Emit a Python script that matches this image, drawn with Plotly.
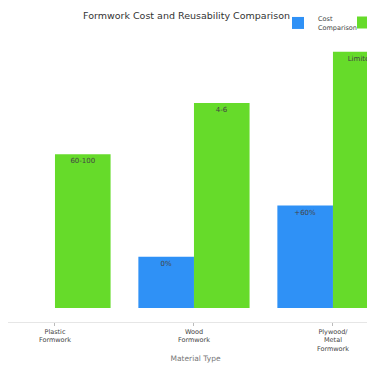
import plotly.graph_objects as go

categories = ["Plastic<br>Formwork", "Wood<br>Formwork", "Plywood/<br>Metal<br>Formwork"]
cost_values = [0, 1, 2]
cost_labels = ["", "0%", "+60%"]
reuse_values = [3, 4, 5]
reuse_labels = ["60-100", "4-6", "Limited"]

fig = go.Figure()
fig.add_trace(go.Bar(
    x=categories, y=cost_values, name="Cost<br>Comparison",
    text=cost_labels, textposition="inside", insidetextanchor="end",
    textfont=dict(size=7, color="#444444"),
    marker=dict(color="#2F91F6", line=dict(width=0)),
))
fig.add_trace(go.Bar(
    x=categories, y=reuse_values, name="Reusability",
    text=reuse_labels, textposition="inside", insidetextanchor="end",
    textfont=dict(size=7, color="#444444"),
    marker=dict(color="#66DB2A", line=dict(width=0)),
))

fig.update_layout(
    width=375, height=366,
    margin=dict(l=0, r=0, t=32, b=52, autoexpand=False),
    autosize=False,
    paper_bgcolor="white", plot_bgcolor="white",
    font=dict(family="DejaVu Sans", color="#444444"),
    title=dict(text="Formwork Cost and Reusability Comparison", x=0.476, xanchor="center",
               y=1 - 8/366, yanchor="middle", font=dict(size=9.5, color="#333333")),
    barmode="group", bargap=0.2, bargroupgap=0,
    showlegend=True,
    legend=dict(orientation="h", xref="container", yref="container",
                x=0.72, xanchor="left", y=1.0, yanchor="top", entrywidth=20,
                font=dict(size=6.5, color="#444444"), bgcolor="rgba(0,0,0,0)"),
)
fig.update_xaxes(
    range=[-0.338, 2.36], showline=True, linecolor="#e6e6e6", linewidth=1,
    ticks="outside", ticklen=3, tickcolor="#bbbbbb", showgrid=False,
    tickfont=dict(size=6.5, color="#444444"),
    title=dict(text="Material Type", font=dict(size=7.5, color="#777777"), standoff=4),
    automargin=False,
)
fig.update_yaxes(range=[-0.273, 5.23], visible=False, showgrid=False, zeroline=False)

fig.write_html("out.html")
